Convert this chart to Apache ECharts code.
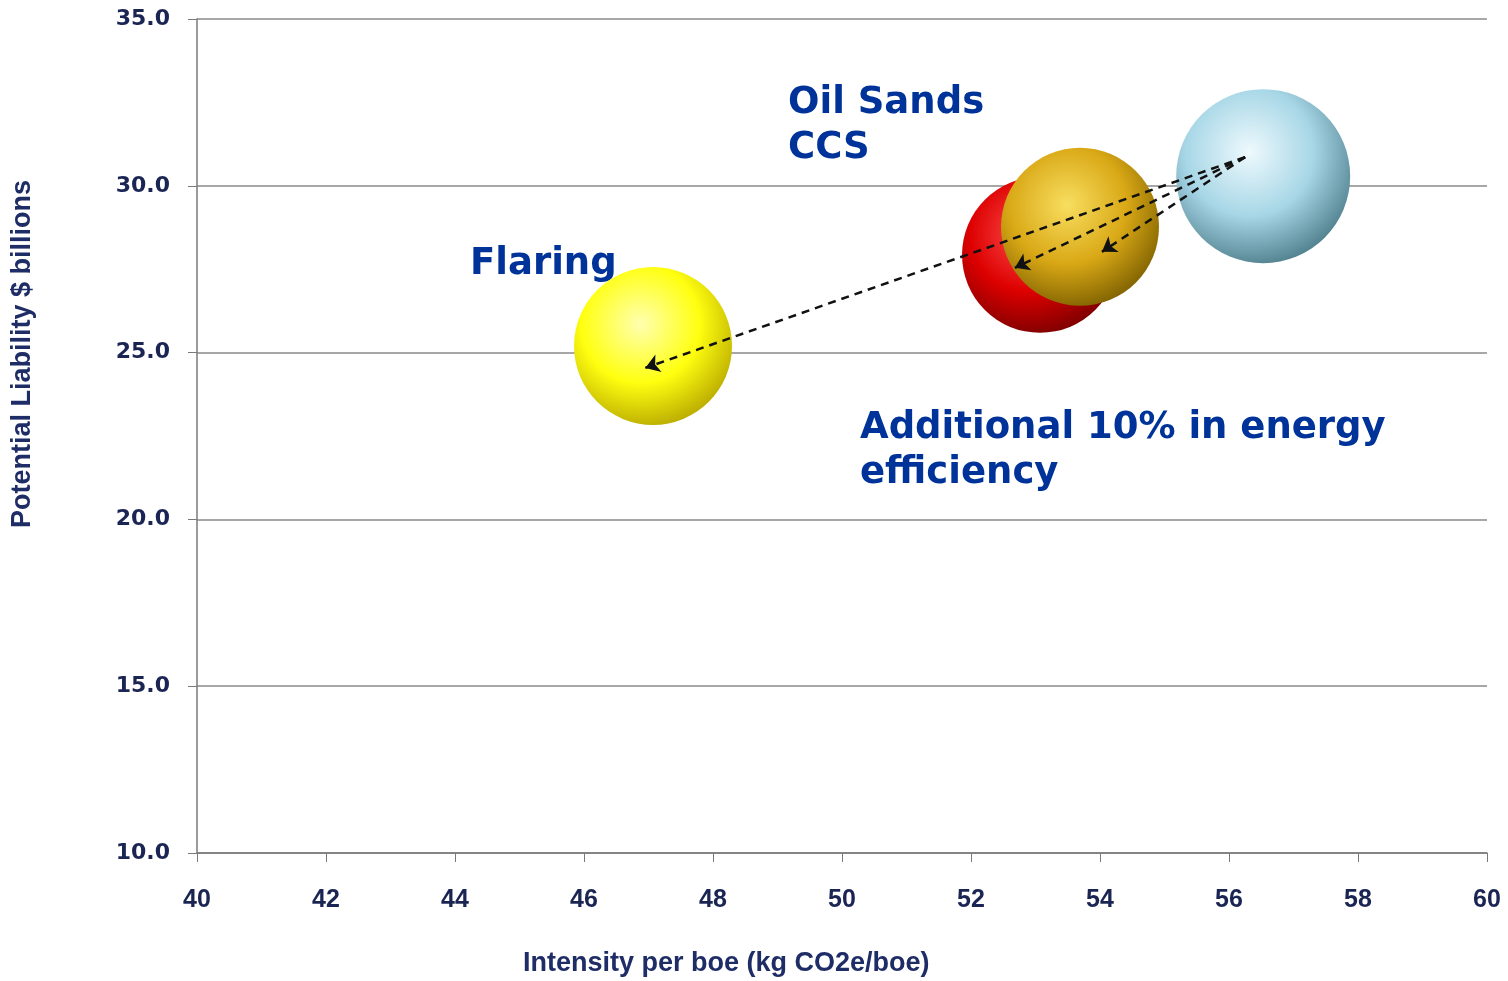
<!DOCTYPE html>
<html lang="en">

<head>
    <meta charset="UTF-8">
    <title>Potential Liability vs Intensity</title>
    <script src="https://cdn.jsdelivr.net/npm/echarts@6/dist/echarts.min.js"></script>
    <style>
        html, body { margin: 0; padding: 0; background: #fff; }
        #container { width: 1508px; height: 981px; }
    </style>
</head>

<body>
    <div id="container"></div>
    <script type="text/javascript">
        // bubbles: name, intensity (x), liability (y), bubble size
        var bubbleNames = ['Flaring', 'Additional 10% in energy efficiency', 'Oil Sands CCS', 'Base'];
        var bubbleX = [47.07, 53.07, 53.69, 56.53];
        var bubbleY = [25.2, 27.93, 28.77, 30.29];
        var bubbleSize = [158, 156, 158, 174];

        // dashed arrows from base case to each scenario
        var arrowFrom = [56.25, 30.86];
        var arrowToX = [46.95, 52.68, 54.03];
        var arrowToY = [24.54, 27.54, 28.02];

        var xTicks = [40, 42, 44, 46, 48, 50, 52, 54, 56, 58, 60];
        var yTicks = [10, 15, 20, 25, 30, 35];

        // sphere shading: highlight, mid, edge
        var sphereColors = [
            ['#ffffb0', '#ffff10', '#b8a800'],
            ['#ff5050', '#dd0000', '#7a0000'],
            ['#f8de60', '#d9a816', '#7d6000'],
            ['#eef9fd', '#a6d6e6', '#4d7c8a']
        ];

        var dom = document.getElementById('container');
        var myChart = echarts.init(dom, null, { renderer: 'canvas' });

        var scatterData = [];
        for (var i = 0; i < bubbleX.length; i++) {
            var c = sphereColors[i];
            scatterData.push({
                name: bubbleNames[i],
                value: [bubbleX[i], bubbleY[i], bubbleSize[i]],
                itemStyle: {
                    color: {
                        type: 'radial', x: 0.42, y: 0.36, r: 0.68,
                        colorStops: [
                            { offset: 0, color: c[0] },
                            { offset: 0.55, color: c[1] },
                            { offset: 1, color: c[2] }
                        ]
                    }
                }
            });
        }

        var arrowData = [];
        for (var j = 0; j < arrowToX.length; j++) {
            arrowData.push({ coords: [arrowFrom, [arrowToX[j], arrowToY[j]]] });
        }

        var tickColor = '#1b2553';
        var labelColor = '#003399';

        var option = {
            backgroundColor: '#fff',
            animation: false,
            grid: { left: 197, right: 21, top: 19, bottom: 128 },
            xAxis: {
                type: 'value',
                min: xTicks[0],
                max: xTicks[xTicks.length - 1],
                interval: 2,
                axisLine: { show: true, lineStyle: { color: '#7a7a7a', width: 1.5 } },
                axisTick: { show: true, inside: false, length: 9, lineStyle: { color: '#7a7a7a' } },
                splitLine: { show: false },
                axisLabel: {
                    margin: 35, color: tickColor, fontSize: 25, fontWeight: 'bold',
                    fontFamily: '"Liberation Sans Narrow", "Liberation Sans", Arial'
                }
            },
            yAxis: {
                type: 'value',
                min: yTicks[0],
                max: yTicks[yTicks.length - 1],
                interval: 5,
                axisLine: { show: true, lineStyle: { color: '#7a7a7a', width: 1.5 } },
                axisTick: { show: true, length: 9, lineStyle: { color: '#7a7a7a' } },
                splitLine: { show: true, lineStyle: { color: '#8a8a8a', width: 1.5 } },
                axisLabel: {
                    margin: 27, color: tickColor, fontSize: 22, fontWeight: 'bold',
                    fontFamily: '"DejaVu Sans", Verdana',
                    formatter: function (v) { return v.toFixed(1); }
                }
            },
            graphic: [
                {
                    type: 'text', left: 470, top: 246,
                    style: { text: 'Flaring', fill: labelColor, font: 'bold 37px "DejaVu Sans"' }
                },
                {
                    type: 'text', left: 788, top: 81,
                    style: { text: 'Oil Sands\nCCS', fill: labelColor, font: 'bold 37px "DejaVu Sans"', lineHeight: 45 }
                },
                {
                    type: 'text', left: 860, top: 406,
                    style: { text: 'Additional 10% in energy\nefficiency', fill: labelColor, font: 'bold 37px "DejaVu Sans"', lineHeight: 45 }
                },
                {
                    type: 'text', left: 523, top: 950,
                    style: { text: 'Intensity per boe (kg CO2e/boe)', fill: '#1f2d66', font: 'bold 27px "Liberation Sans"' }
                },
                {
                    type: 'text', x: 9, y: 528, rotation: Math.PI / 2,
                    style: { text: 'Potential Liability $ billions', fill: '#1f2d66', font: 'bold 27px "Liberation Sans"' }
                }
            ],
            series: [
                {
                    type: 'scatter',
                    data: scatterData,
                    symbolSize: function (val) { return val[2]; },
                    itemStyle: { opacity: 1 },
                    z: 2
                },
                {
                    type: 'lines',
                    coordinateSystem: 'cartesian2d',
                    data: arrowData,
                    symbol: ['none', 'arrow'],
                    symbolSize: 14,
                    lineStyle: { color: '#111', width: 2.5, type: [8, 6], opacity: 1 },
                    z: 3
                }
            ]
        };

        myChart.setOption(option);
        window.addEventListener('resize', myChart.resize);
    </script>
</body>

</html>
